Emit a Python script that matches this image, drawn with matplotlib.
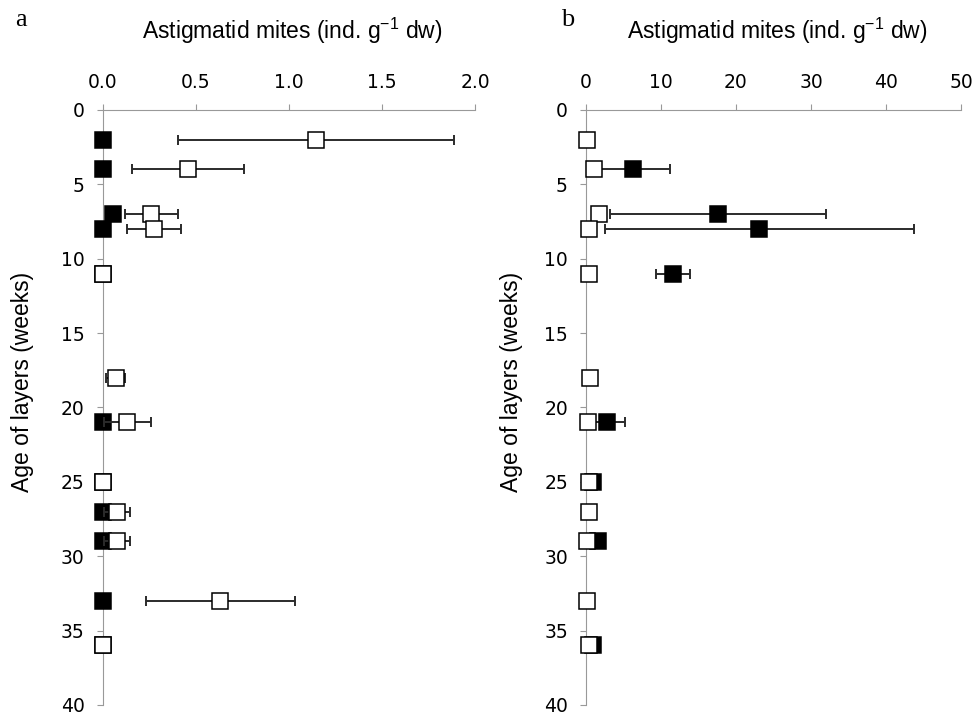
import numpy as np
import matplotlib
matplotlib.use('Agg')
import matplotlib.pyplot as plt

# age of layers (weeks)
weeks = [2, 4, 7, 8, 11, 18, 21, 25, 27, 29, 33, 36]

# panel a
open_a = [1.145, 0.457, 0.262, 0.276, 0.0, 0.07, 0.133, 0.0, 0.077, 0.077, 0.631, 0.0]
open_a_err = [0.74, 0.30, 0.14, 0.146, 0.0, 0.05, 0.125, 0.0, 0.07, 0.07, 0.40, 0.0]
filled_a = [0.0, 0.0, 0.055, 0.0, 0.0, np.nan, 0.0, 0.0, 0.0, 0.0, 0.0, 0.0]
filled_a_err = [0.0] * 12

# panel b
open_b = [0.1, 1.1, 1.8, 0.45, 0.45, 0.5, 0.25, 0.45, 0.45, 0.1, 0.15, 0.45]
open_b_err = [0.0] * 12
filled_b = [np.nan, 6.3, 17.6, 23.1, 11.6, np.nan, 2.8, 0.9, np.nan, 1.6, np.nan, 0.9]
filled_b_err = [0.0, 4.9, 14.4, 20.6, 2.3, 0.0, 2.4, 0.0, 0.0, 0.3, 0.0, 0.0]

y_ticks = [0, 5, 10, 15, 20, 25, 30, 35, 40]
xticks_a = [0.0, 0.5, 1.0, 1.5, 2.0]
xticks_b = [0, 10, 20, 30, 40, 50]

xlabel = 'Astigmatid mites (ind. g$^{\\mathregular{-1}}$ dw)'
ylabel = 'Age of layers (weeks)'


def draw_series(ax, x, err, face, z):
    x = np.asarray(x, float)
    err = np.asarray(err, float)
    y = np.asarray(weeks, float)
    m = err > 0
    if m.any():
        eb = ax.errorbar(x[m], y[m], xerr=err[m], fmt='none', ecolor='#2b2b2b',
                         elinewidth=1.4, capsize=3.6, capthick=1.4, zorder=z)
        for art in list(eb.lines[1]) + list(eb.lines[2]):
            art.set_clip_on(False)
    ax.plot(x, y, 's', ms=12, mfc=face, mec='black', mew=1.1,
            zorder=z + 1, clip_on=False)


def panel(ax, openx, openerr, filledx, fillederr, xlim, xticks, fmt, letter, lx, ylx):
    draw_series(ax, filledx, fillederr, 'black', 2)
    draw_series(ax, openx, openerr, 'white', 4)
    ax.set_xlim(xlim)
    ax.set_ylim(40, 0)
    ax.set_yticks(y_ticks)
    ax.set_xticks(xticks)
    ax.set_xticklabels([fmt.format(v) for v in xticks])
    ax.xaxis.tick_top()
    for s in ['right', 'bottom']:
        ax.spines[s].set_visible(False)
    ax.spines['top'].set_color('#999999')
    ax.spines['left'].set_color('#999999')
    ax.tick_params(axis='x', direction='out', length=4, color='#999999',
                   labelsize=13.5, pad=9)
    ax.tick_params(axis='y', direction='out', length=4, color='#999999',
                   labelsize=13.5, pad=9)
    pos = ax.get_position()
    fig.text((pos.x0 + pos.x1) / 2 + 0.004, 0.957, xlabel, ha='center', va='center',
             fontsize=16.5, family='Liberation Sans')
    fig.text(ylx, 0.4665, ylabel, rotation=90, ha='center', va='center',
             fontsize=16.5, family='Liberation Sans')
    fig.text(lx, 0.972, letter, ha='left', va='center', fontsize=19,
             family='Liberation Serif')


fig = plt.figure(figsize=(9.75, 7.16), dpi=100)
ax1 = fig.add_axes([0.1053, 0.0154, 0.3819, 0.8310])
ax2 = fig.add_axes([0.6010, 0.0154, 0.3846, 0.8310])

panel(ax1, open_a, open_a_err, filled_a, filled_a_err, (0, 2.0), xticks_a, '{:.1f}', 'a', 0.016, 0.023)
panel(ax2, open_b, open_b_err, filled_b, filled_b_err, (0, 50), xticks_b, '{:.0f}', 'b', 0.575, 0.525)

fig.savefig('out.png', dpi=100)
